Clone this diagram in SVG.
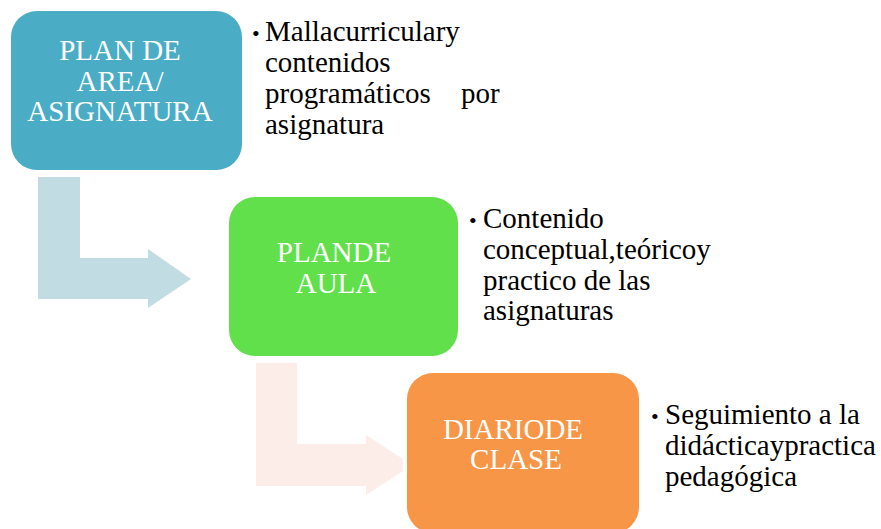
<svg xmlns="http://www.w3.org/2000/svg" width="881" height="529" viewBox="0 0 881 529">
<style>
.box text{font-family:"Liberation Serif",serif;font-size:29px;fill:#ffffff;text-anchor:middle}
.b{font-size:22px}
</style>
<rect width="881" height="529" fill="#ffffff"/>
<g id="connectors">
<polygon points="38,177 80,177 80,258 148,258 148,249 191,279 148,308 148,299 38,299" fill="#C2DCE4"/>
<polygon points="256,363 297,363 297,444 366,444 366,435 403,459 403,471 366,495 366,486 256,486" fill="#FCEDE8"/>
</g>
<g id="node1" class="box">
<rect x="11" y="11" width="231" height="159" rx="26" fill="#4BACC6"/>
<text x="120" y="60">PLAN DE</text>
<text x="120" y="91">AREA/</text>
<text x="120" y="121">ASIGNATURA</text>
</g>
<g id="note1" font-family="'Liberation Serif', serif" font-size="29" fill="#000000">
<text class="b" x="252" y="41">•</text>
<text x="265" y="41">Mallacurriculary</text>
<text x="265" y="72">contenidos</text>
<text x="265" y="103">programáticos</text>
<text x="461" y="103">por</text>
<text x="265" y="134">asignatura</text>
</g>
<g id="node2" class="box">
<rect x="229" y="197" width="229" height="159" rx="26" fill="#61E04B"/>
<text x="334" y="262">PLANDE</text>
<text x="336" y="293">AULA</text>
</g>
<g id="note2" font-family="'Liberation Serif', serif" font-size="29" fill="#000000">
<text class="b" x="469" y="228">•</text>
<text x="483" y="228">Contenido</text>
<text x="483" y="259">conceptual,teóricoy</text>
<text x="483" y="290">practico de las</text>
<text x="483" y="320">asignaturas</text>
</g>
<g id="node3" class="box">
<rect x="407" y="373" width="232" height="160" rx="26" fill="#F79646"/>
<text x="513" y="439">DIARIODE</text>
<text x="516" y="469">CLASE</text>
</g>
<g id="note3" font-family="'Liberation Serif', serif" font-size="29" fill="#000000">
<text class="b" x="651" y="424">•</text>
<text x="665" y="424">Seguimiento a la</text>
<text x="665" y="455">didácticaypractica</text>
<text x="665" y="486">pedagógica</text>
</g>
</svg>
